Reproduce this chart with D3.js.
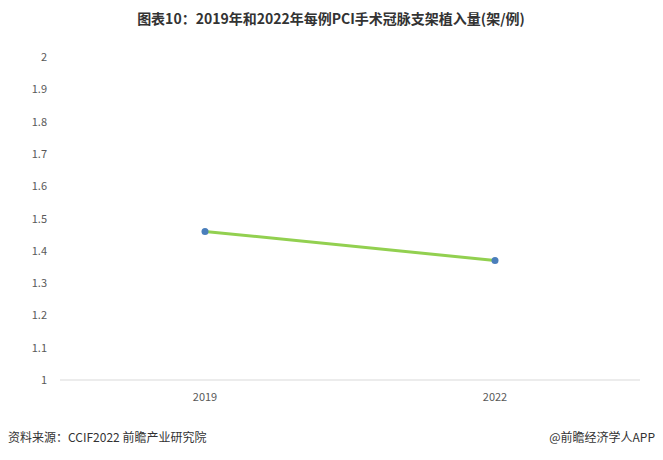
<!DOCTYPE html>
<html><head><meta charset="utf-8">
<script src="https://cdn.jsdelivr.net/npm/d3@7"></script>
<style>body{margin:0;background:#fff;font-family:"Noto Sans CJK SC","Noto Sans",sans-serif}</style>
</head><body><svg id="c" width="663" height="460"></svg>
<script>
var years = ["2019", "2022"];
var values = [1.46, 1.37];
var yTicks = [1, 1.1, 1.2, 1.3, 1.4, 1.5, 1.6, 1.7, 1.8, 1.9, 2];

var svg = d3.select("#c");
var x = d3.scaleBand().domain(years).range([60, 640]);
var y = d3.scaleLinear().domain([1, 2]).range([380, 57]);

svg.append("text").attr("x", 331).attr("y", 24).attr("text-anchor", "middle")
    .attr("font-size", 14).attr("font-weight", "bold").attr("fill", "#333")
    .text("图表10：2019年和2022年每例PCI手术冠脉支架植入量(架/例)");

yTicks.forEach(function(t) {
    svg.append("text").attr("x", 47).attr("y", y(t) + 4).attr("text-anchor", "end")
        .attr("font-size", 11).attr("fill", "#595959").text(d3.format("")(+t.toFixed(1)));
});

svg.append("line").attr("x1", 60).attr("x2", 640).attr("y1", 380).attr("y2", 380)
    .attr("stroke", "#d9d9d9");

years.forEach(function(yr) {
    svg.append("text").attr("x", x(yr) + x.bandwidth() / 2).attr("y", 401)
        .attr("text-anchor", "middle").attr("font-size", 11).attr("fill", "#595959").text(yr);
});

var line = d3.line().x(function(d, i) { return x(years[i]) + x.bandwidth() / 2; })
    .y(function(d) { return y(d); });
svg.append("path").datum(values).attr("d", line).attr("fill", "none")
    .attr("stroke", "#92d050").attr("stroke-width", 3);
svg.selectAll("circle").data(values).enter().append("circle")
    .attr("cx", function(d, i) { return x(years[i]) + x.bandwidth() / 2; })
    .attr("cy", function(d) { return y(d); }).attr("r", 3.5).attr("fill", "#4a7ebb");

svg.append("text").attr("x", 8).attr("y", 442).attr("font-size", 12).attr("fill", "#333")
    .text("资料来源：CCIF2022 前瞻产业研究院");
svg.append("text").attr("x", 655).attr("y", 442).attr("text-anchor", "end")
    .attr("font-size", 12).attr("fill", "#333").text("@前瞻经济学人APP");
</script></body></html>
